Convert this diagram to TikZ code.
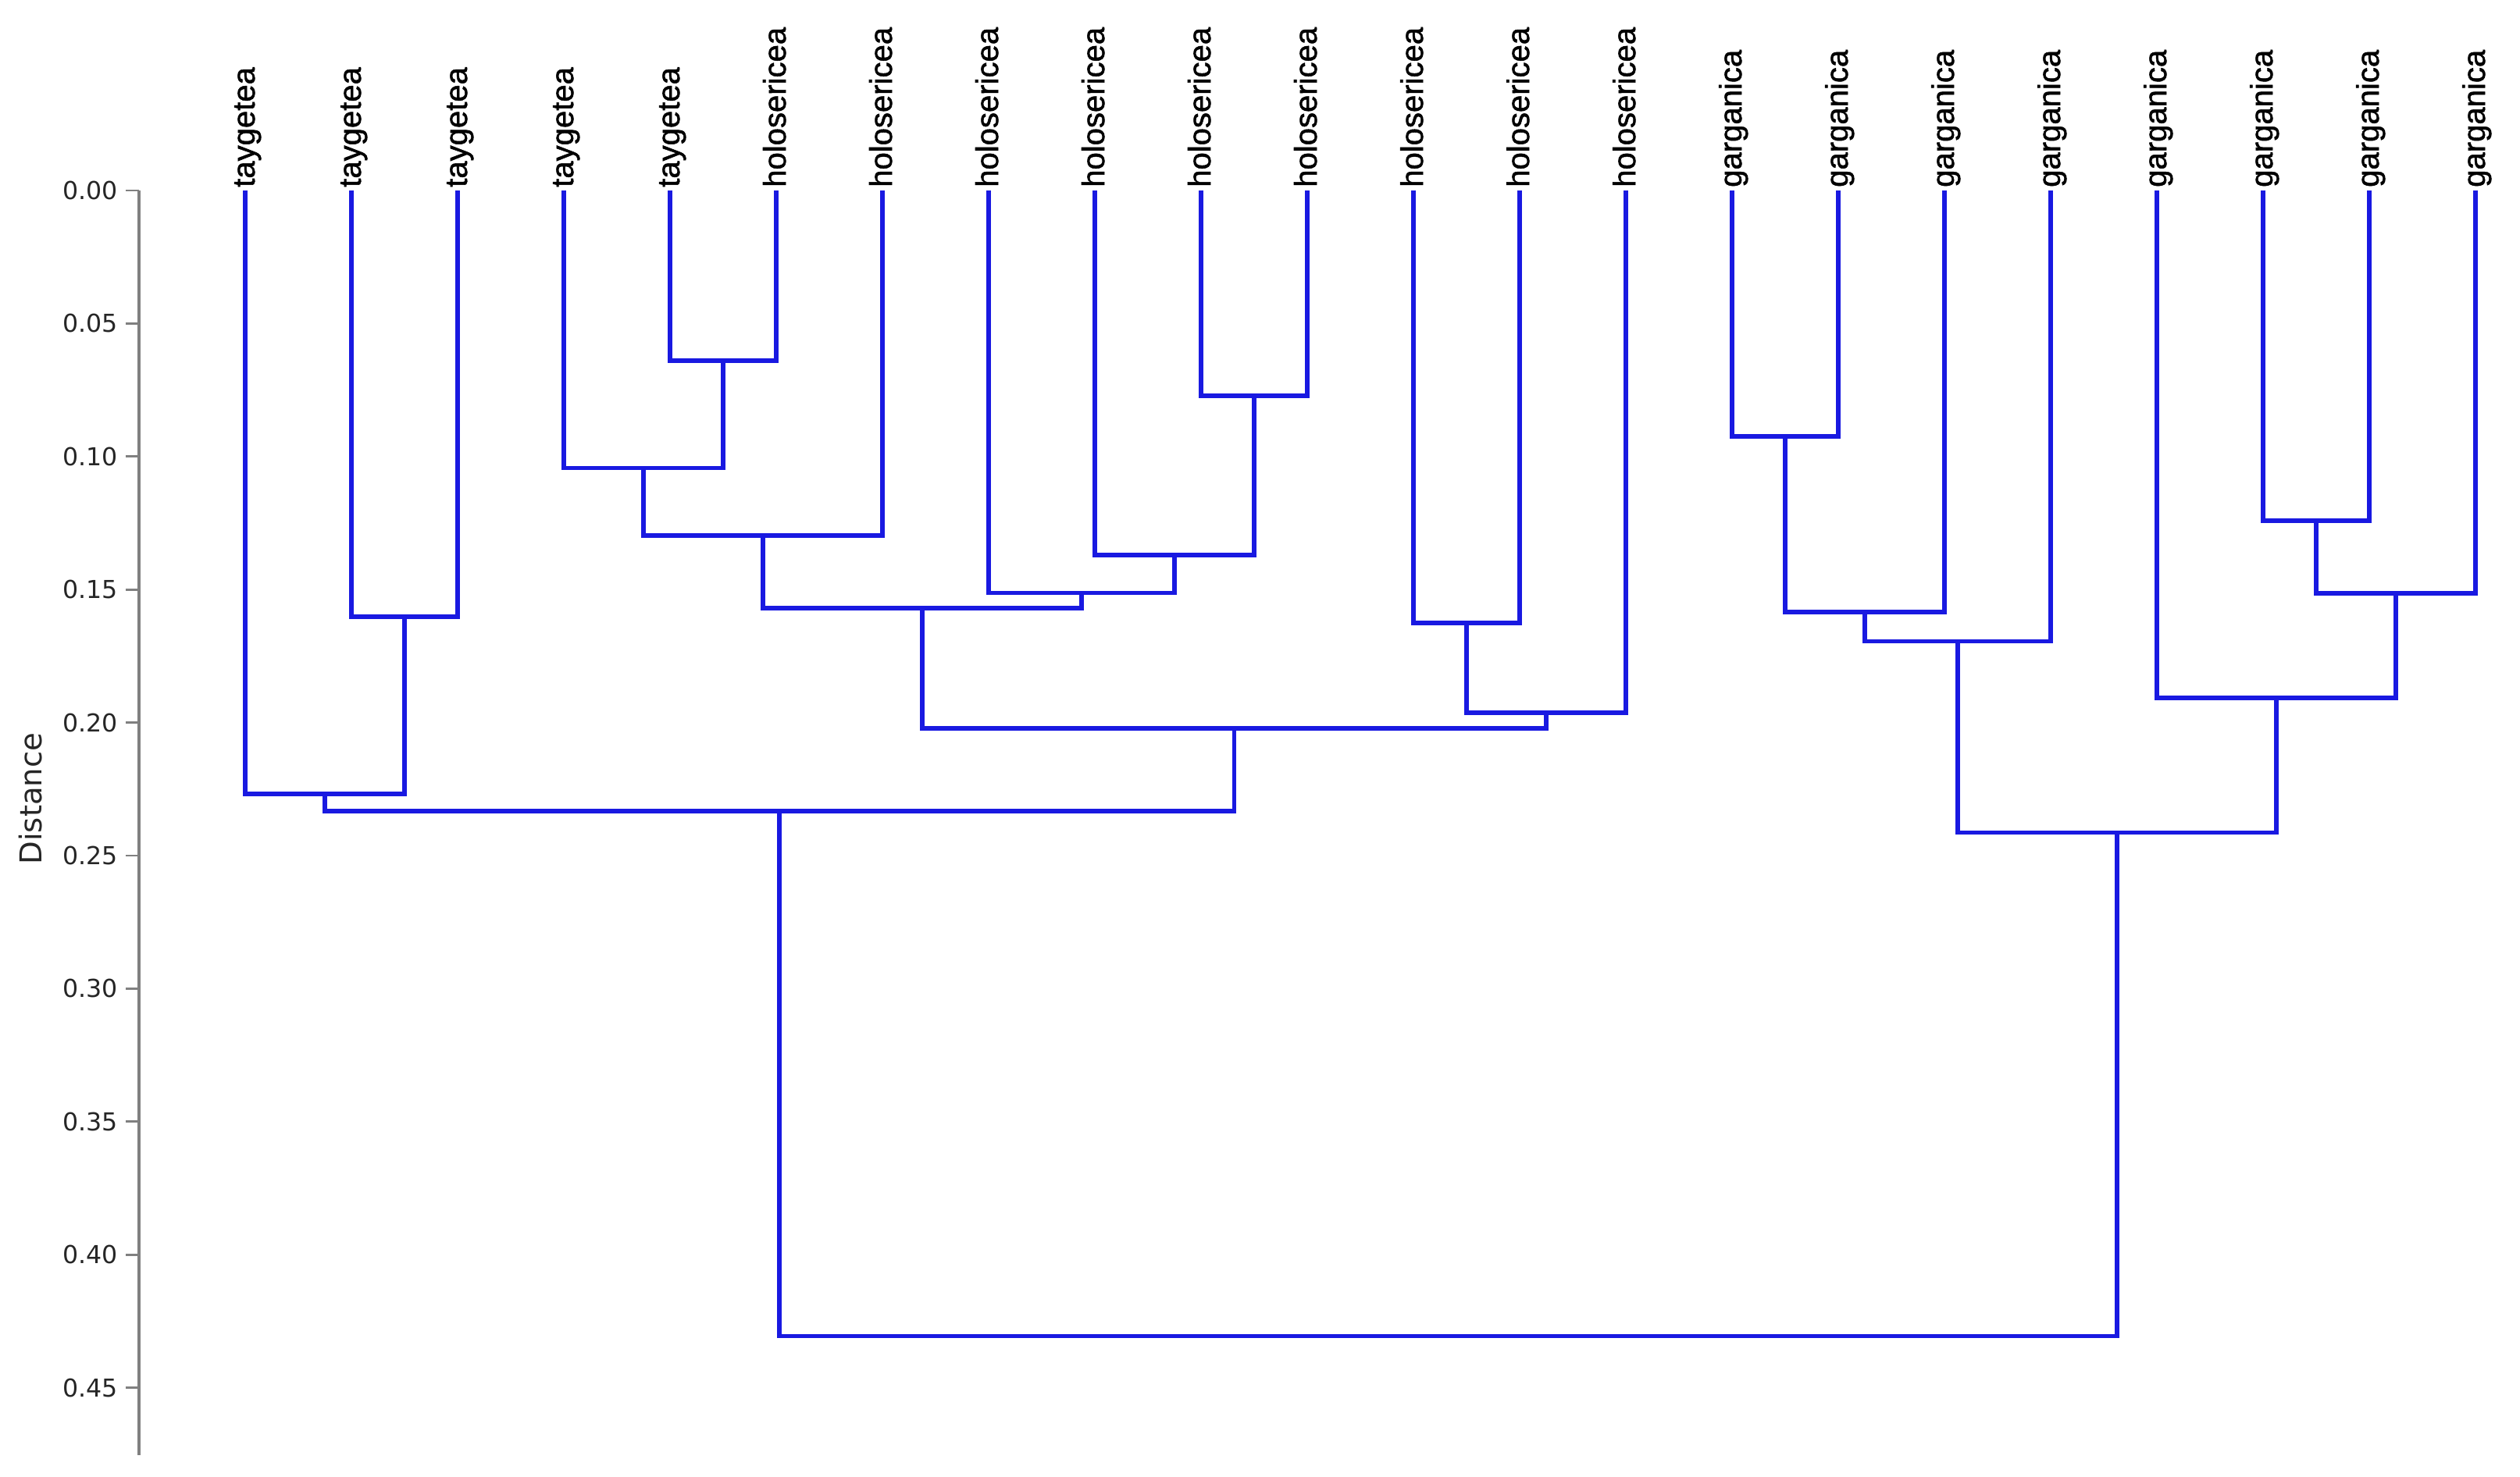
\documentclass[tikz,border=0pt]{standalone}
\usepackage{fontspec}
\setmainfont{Liberation Sans}
\newfontfamily\leaffont[FakeBold=1.3]{Liberation Sans}
\newfontfamily\axisfont{DejaVu Sans}
\definecolor{dendro}{RGB}{25,25,225}
\definecolor{axisgray}{RGB}{128,128,128}

\begin{document}
\begin{tikzpicture}[
		x=1.36cm, y=-34.08cm,
		branch/.style = {draw=dendro, line width=1.6pt},
		leaf/.style = {rotate=90, anchor=base west, inner xsep=1pt, inner ysep=0pt,
			font=\leaffont\fontsize{11.4}{13}\selectfont},
		axtick/.style = {anchor=east, inner xsep=2.5pt, inner ysep=0pt, text=black!85,
			font=\axisfont\fontsize{9}{11}\selectfont}
	]
	\useasboundingbox (-1.309,-0.0716) rectangle (22.419,0.4833);

	% distance axis
	\coordinate (atop) at (0,0);
	\coordinate (abot) at (0,0.4754);
	\draw[axisgray, line width=1.2pt] (atop) -- (abot);
	\foreach \v [count=\k] in {0.00,0.05,0.10,0.15,0.20,0.25,0.30,0.35,0.40,0.45}
		\draw[axisgray, line width=0.8pt] (0,\v) -- ++(-0.125,0) node[axtick] (t\k) {\v};
	\node[rotate=90, text=black!85, font=\axisfont\fontsize{11}{13}\selectfont] (dist) at (-1.022,0.2286) {Distance};

	% leaves
	\coordinate (p1) at (1,0);
	\coordinate (p2) at (2,0);
	\coordinate (p3) at (3,0);
	\coordinate (p4) at (4,0);
	\coordinate (p5) at (5,0);
	\coordinate (p6) at (6,0);
	\coordinate (p7) at (7,0);
	\coordinate (p8) at (8,0);
	\coordinate (p9) at (9,0);
	\coordinate (p10) at (10,0);
	\coordinate (p11) at (11,0);
	\coordinate (p12) at (12,0);
	\coordinate (p13) at (13,0);
	\coordinate (p14) at (14,0);
	\coordinate (p15) at (15,0);
	\coordinate (p16) at (16,0);
	\coordinate (p17) at (17,0);
	\coordinate (p18) at (18,0);
	\coordinate (p19) at (19,0);
	\coordinate (p20) at (20,0);
	\coordinate (p21) at (21,0);
	\coordinate (p22) at (22,0);

	\node[leaf] (l1) at ([xshift=1.2mm]p1) {taygetea};
	\node[leaf] (l2) at ([xshift=1.2mm]p2) {taygetea};
	\node[leaf] (l3) at ([xshift=1.2mm]p3) {taygetea};
	\node[leaf] (l4) at ([xshift=1.2mm]p4) {taygetea};
	\node[leaf] (l5) at ([xshift=1.2mm]p5) {taygetea};
	\node[leaf] (l6) at ([xshift=1.2mm]p6) {holosericea};
	\node[leaf] (l7) at ([xshift=1.2mm]p7) {holosericea};
	\node[leaf] (l8) at ([xshift=1.2mm]p8) {holosericea};
	\node[leaf] (l9) at ([xshift=1.2mm]p9) {holosericea};
	\node[leaf] (l10) at ([xshift=1.2mm]p10) {holosericea};
	\node[leaf] (l11) at ([xshift=1.2mm]p11) {holosericea};
	\node[leaf] (l12) at ([xshift=1.2mm]p12) {holosericea};
	\node[leaf] (l13) at ([xshift=1.2mm]p13) {holosericea};
	\node[leaf] (l14) at ([xshift=1.2mm]p14) {holosericea};
	\node[leaf] (l15) at ([xshift=1.2mm]p15) {garganica};
	\node[leaf] (l16) at ([xshift=1.2mm]p16) {garganica};
	\node[leaf] (l17) at ([xshift=1.2mm]p17) {garganica};
	\node[leaf] (l18) at ([xshift=1.2mm]p18) {garganica};
	\node[leaf] (l19) at ([xshift=1.2mm]p19) {garganica};
	\node[leaf] (l20) at ([xshift=1.2mm]p20) {garganica};
	\node[leaf] (l21) at ([xshift=1.2mm]p21) {garganica};
	\node[leaf] (l22) at ([xshift=1.2mm]p22) {garganica};

	% joins (x = middle of the two children, y = distance)
	\coordinate (m56) at (5.5,0.064);
	\coordinate (m4) at (4.75,0.1043);
	\coordinate (m7) at (5.875,0.1297);
	\coordinate (m1011) at (10.5,0.0771);
	\coordinate (m9) at (9.75,0.137);
	\coordinate (m8) at (8.875,0.1513);
	\coordinate (m411) at (7.375,0.157);
	\coordinate (m1213) at (12.5,0.1626);
	\coordinate (m14) at (13.25,0.1963);
	\coordinate (m414) at (10.3125,0.2022);
	\coordinate (m23) at (2.5,0.1602);
	\coordinate (m13) at (1.75,0.2268);
	\coordinate (m114) at (6.03125,0.2332);
	\coordinate (m1516) at (15.5,0.0925);
	\coordinate (m17) at (16.25,0.1585);
	\coordinate (m18) at (17.125,0.1695);
	\coordinate (m2021) at (20.5,0.1241);
	\coordinate (m22) at (21.25,0.1514);
	\coordinate (m19) at (20.125,0.1907);
	\coordinate (m1522) at (18.625,0.2414);
	\coordinate (root) at (12.328,0.4306);

	\draw[branch] (p5) |- (m56) -| (p6);
	\draw[branch] (p4) |- (m4) -| (m56);
	\draw[branch] (m4) |- (m7) -| (p7);
	\draw[branch] (p10) |- (m1011) -| (p11);
	\draw[branch] (p9) |- (m9) -| (m1011);
	\draw[branch] (p8) |- (m8) -| (m9);
	\draw[branch] (m7) |- (m411) -| (m8);
	\draw[branch] (p12) |- (m1213) -| (p13);
	\draw[branch] (m1213) |- (m14) -| (p14);
	\draw[branch] (m411) |- (m414) -| (m14);
	\draw[branch] (p2) |- (m23) -| (p3);
	\draw[branch] (p1) |- (m13) -| (m23);
	\draw[branch] (m13) |- (m114) -| (m414);
	\draw[branch] (p15) |- (m1516) -| (p16);
	\draw[branch] (m1516) |- (m17) -| (p17);
	\draw[branch] (m17) |- (m18) -| (p18);
	\draw[branch] (p20) |- (m2021) -| (p21);
	\draw[branch] (m2021) |- (m22) -| (p22);
	\draw[branch] (p19) |- (m19) -| (m22);
	\draw[branch] (m18) |- (m1522) -| (m19);
	\draw[branch] (m114) |- (root) -| (m1522);
\end{tikzpicture}
\end{document}
